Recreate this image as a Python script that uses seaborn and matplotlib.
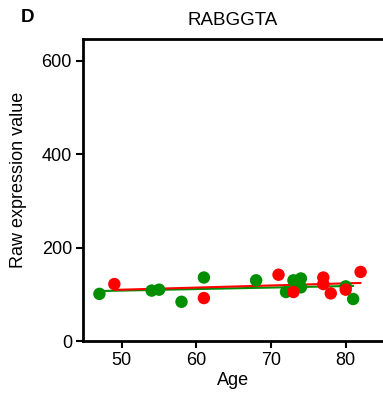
import matplotlib
matplotlib.use("Agg")
import matplotlib.pyplot as plt
import seaborn as sns
import pandas as pd

# Expression of RABGGTA versus age, two groups
green_age = [47, 54, 55, 58, 61, 68, 72, 73, 74, 74, 80, 81]
green_val = [101, 108, 110, 84, 136, 130, 105, 130, 134, 115, 117, 90]
red_age = [49, 61, 71, 73, 77, 77, 78, 80, 82]
red_val = [122, 92, 142, 105, 136, 122, 102, 110, 148]

x_ticks = [50, 60, 70, 80]
y_ticks = [0, 200, 400, 600]

green_df = pd.DataFrame({"Age": green_age, "Value": green_val})
red_df = pd.DataFrame({"Age": red_age, "Value": red_val})

sns.set_style("white")
plt.rcParams["font.family"] = ["Liberation Sans", "DejaVu Sans"]
plt.rcParams["text.color"] = "black"
plt.rcParams["axes.labelcolor"] = "black"
plt.rcParams["xtick.color"] = "black"
plt.rcParams["ytick.color"] = "black"

fig = plt.figure(figsize=(3.83, 3.94), dpi=100)
ax = fig.add_axes([0.2167, 0.1345, 0.7833, 0.7665])

GREEN = "#008f00"
RED = "#ff0000"

sns.regplot(data=green_df, x="Age", y="Value", ax=ax, ci=None, scatter=False,
            truncate=True, color=GREEN, line_kws={"lw": 1.5, "zorder": 2})
sns.regplot(data=red_df, x="Age", y="Value", ax=ax, ci=None, scatter=False,
            truncate=True, color=RED, line_kws={"lw": 1.5, "zorder": 3})
sns.scatterplot(data=green_df, x="Age", y="Value", ax=ax, color=GREEN,
                s=80, edgecolor="none", zorder=4)
sns.scatterplot(data=red_df, x="Age", y="Value", ax=ax, color=RED,
                s=80, edgecolor="none", zorder=5)

ax.set_xlim(44.8, 85.0)
ax.set_ylim(0, 647)
ax.set_xticks(x_ticks)
ax.set_yticks(y_ticks)
ax.tick_params(axis="both", which="both", direction="out", length=5, width=1.5,
               labelsize=13, colors="black", bottom=True, left=True, pad=3)

for side in ["left", "bottom", "top"]:
    ax.spines[side].set_visible(True)
    ax.spines[side].set_linewidth(2)
    ax.spines[side].set_color("black")
ax.spines["right"].set_visible(False)

ax.set_xlabel("Age", fontsize=13, labelpad=2, color="black")
ax.set_ylabel("Raw expression value", fontsize=13, color="black")
ax.yaxis.set_label_coords(-0.187, 0.533)
ax.set_title("RABGGTA", fontsize=13.5, pad=10, color="black")
fig.text(0.053, 0.955, "D", fontsize=13.5, fontweight="bold", va="center",
         color="black")

fig.savefig("out.png", dpi=100)
